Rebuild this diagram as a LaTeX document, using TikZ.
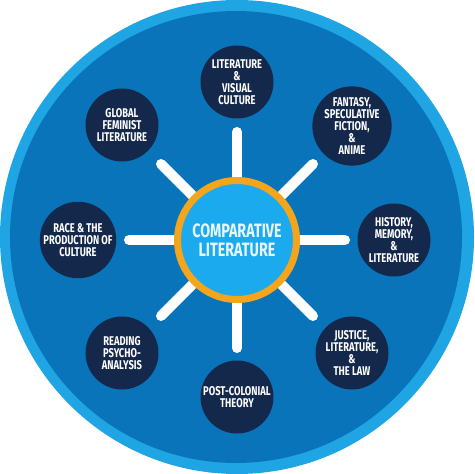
\documentclass[tikz,border=0pt]{standalone}
\usepackage{fontspec}
\newfontfamily\condfont{Fira Sans}[FakeStretch=0.74]
\definecolor{ringblue}{HTML}{1FA5E3}
\definecolor{discblue}{HTML}{0A74BA}
\definecolor{hubblue}{HTML}{1BAAEE}
\definecolor{huborange}{HTML}{F4A51C}
\definecolor{navy}{HTML}{13284B}
\tikzset{
  topic/.style={circle, fill=navy, minimum size=54.75pt, inner sep=0pt, text=white,
    align=center, font=\condfont\bfseries\fontsize{9.5}{9}\selectfont},
  hub/.style={circle, fill=hubblue, draw=huborange, line width=5.25pt, minimum size=89.25pt,
    inner sep=0pt, text=white!90!hubblue, align=center,
    font=\condfont\bfseries\fontsize{14.5}{14}\selectfont},
  spoke/.style={white, line width=7.5pt, line cap=round}
}
\begin{document}
\begin{tikzpicture}[x=0.75pt, y=0.75pt]
            \useasboundingbox (-237,-237) rectangle (237,237);
            \fill[ringblue] (0,0) circle (237);
            \fill[discblue] (-1,0) circle (226);

            % spokes
            \coordinate (c) at (0,-3);
            \coordinate (s1) at (0,105);
            \coordinate (s2) at (76,73);
            \coordinate (s3) at (108,-3);
            \coordinate (s4) at (76,-79);
            \coordinate (s5) at (0,-111);
            \coordinate (s6) at (-76,-79);
            \coordinate (s7) at (-108,-3);
            \coordinate (s8) at (-76,73);
            \draw[spoke] (c) -- (s1);
            \draw[spoke] (c) -- (s2);
            \draw[spoke] (c) -- (s3);
            \draw[spoke] (c) -- (s4);
            \draw[spoke] (c) -- (s5);
            \draw[spoke] (c) -- (s6);
            \draw[spoke] (c) -- (s7);
            \draw[spoke] (c) -- (s8);

            \node[hub] (complit) at (c) {COMPARATIVE\\LITERATURE};

            \node[topic] (visual) at (0,155) {LITERATURE\\\&\\VISUAL\\CULTURE};
            \node[topic] (fantasy) at (115,111) {FANTASY,\\SPECULATIVE\\FICTION,\\\&\\ANIME};
            \node[topic] (history) at (157,-3) {HISTORY,\\MEMORY,\\\&\\LITERATURE};
            \node[topic] (justice) at (115,-116) {JUSTICE,\\LITERATURE,\\\&\\THE LAW};
            \node[topic] (postcol) at (0,-160) {POST-COLONIAL\\THEORY};
            \node[topic] (psycho) at (-115,-116) {READING\\PSYCHO-\\ANALYSIS};
            \node[topic] (race) at (-159,-3) {RACE \& THE\\PRODUCTION OF\\CULTURE};
            \node[topic] (feminist) at (-115,112) {GLOBAL\\FEMINIST\\LITERATURE};
        \end{tikzpicture}
\end{document}
